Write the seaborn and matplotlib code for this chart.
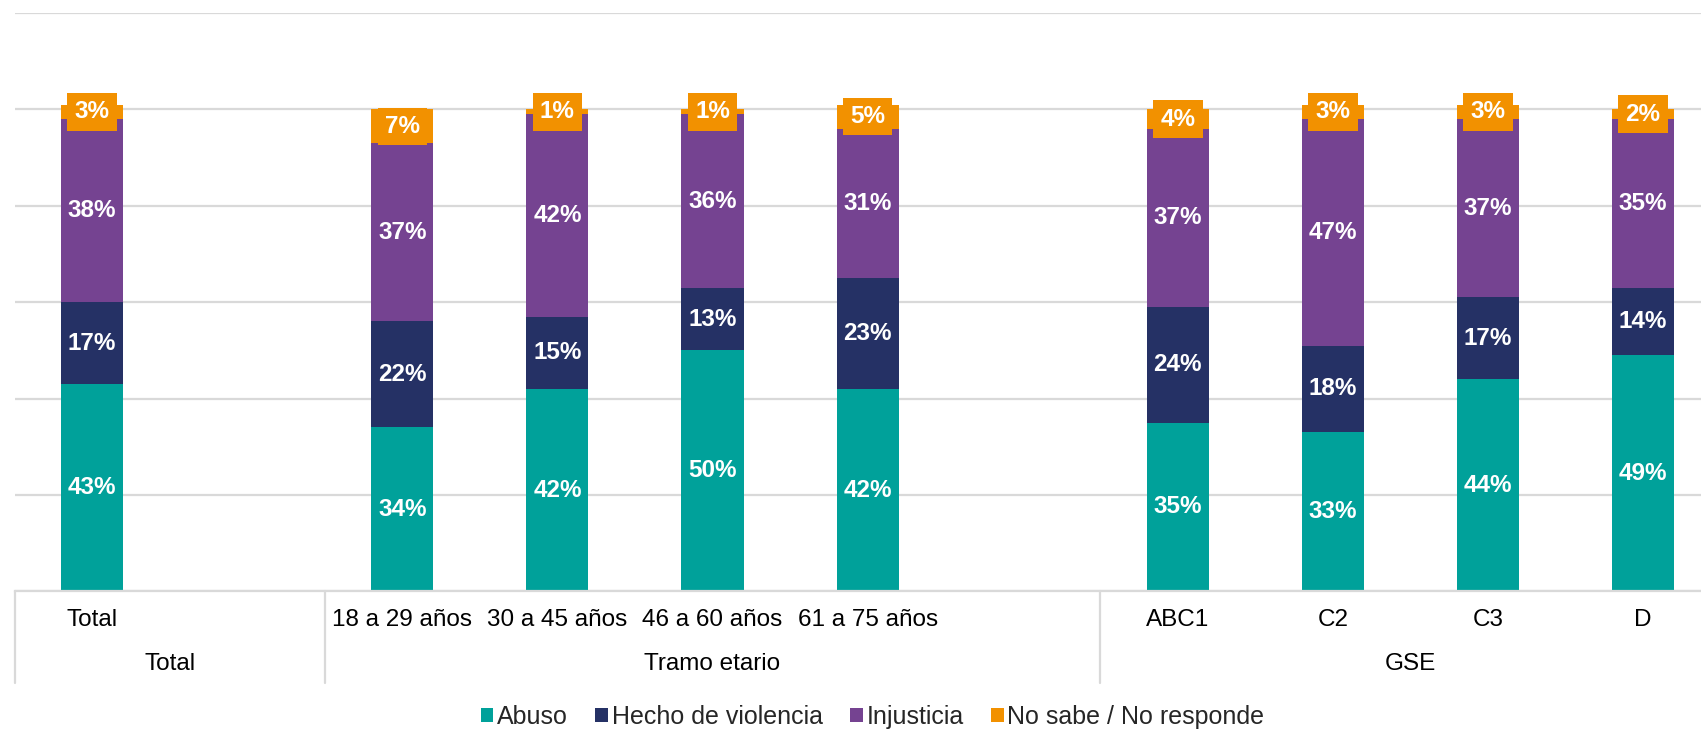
import matplotlib
matplotlib.use("Agg")
import matplotlib.pyplot as plt
import matplotlib.transforms as mtransforms
from matplotlib.patches import Patch
import numpy as np
import pandas as pd
import seaborn as sns

sns.set_style("white")
plt.rcParams["font.family"] = ["Liberation Sans", "DejaVu Sans"]

# Data
categories = ["Total", "18 a 29 años", "30 a 45 años", "46 a 60 años", "61 a 75 años",
              "ABC1", "C2", "C3", "D"]
groups = ["Total", "Tramo etario", "GSE"]
group_of = ["Total", "Tramo etario", "Tramo etario", "Tramo etario", "Tramo etario",
            "GSE", "GSE", "GSE", "GSE"]
series = ["Abuso", "Hecho de violencia", "Injusticia", "No sabe / No responde"]
abuso = [43, 34, 42, 50, 42, 35, 33, 44, 49]
violencia = [17, 22, 15, 13, 23, 24, 18, 17, 14]
injusticia = [38, 37, 42, 36, 31, 37, 47, 37, 35]
nsnr = [3, 7, 1, 1, 5, 4, 3, 3, 2]
colors = ["#00A19A", "#253165", "#754391", "#F29100"]

# category slots, with empty slots between the groups
slot_order = ["Total", "_gap1", "18 a 29 años", "30 a 45 años", "46 a 60 años",
              "61 a 75 años", "_gap2", "ABC1", "C2", "C3", "D"]

values = [abuso, violencia, injusticia, nsnr]
df = pd.DataFrame({"categoria": categories})
for name, vals in zip(series, values):
    df[name] = vals
cum = df[series].cumsum(axis=1)

fig = plt.figure(figsize=(17.01, 7.29), dpi=100)
ax = fig.add_axes([14.6 / 1701, 0.189, 1706 / 1701, 0.793])

# stacked bars: draw cumulative totals from the top layer down
for i in range(len(series) - 1, -1, -1):
    d = pd.DataFrame({"categoria": categories, "valor": cum[series[i]].values})
    sns.barplot(data=d, x="categoria", y="valor", order=slot_order, color=colors[i],
                saturation=1, width=0.4, linewidth=0, ax=ax)

# segment labels
pos = {c: slot_order.index(c) for c in categories}
for j, cat in enumerate(categories):
    bottom = 0
    for i, name in enumerate(series):
        v = values[i][j]
        y = bottom + v / 2
        if i == 3:
            ax.text(pos[cat], y, f"{v}%", ha="center", va="center", color="white",
                    fontsize=17.5, fontweight="bold", zorder=5,
                    bbox=dict(boxstyle="square,pad=0.3", fc=colors[3], ec="none"))
        else:
            ax.text(pos[cat], y, f"{v}%", ha="center", va="center", color="white",
                    fontsize=17.5, fontweight="bold", zorder=5)
        bottom += v

ax.set_ylim(0, 120)
ax.set_xlim(-0.5, len(slot_order) - 0.5)
ax.set_yticks(range(0, 121, 20))
ax.yaxis.grid(True, color="#D9D9D9", linewidth=1.6)
ax.set_axisbelow(True)
ax.tick_params(left=False, bottom=False, labelleft=False, labelbottom=False)
ax.set_xlabel("")
ax.set_ylabel("")
for s in ["top", "right", "left"]:
    ax.spines[s].set_visible(False)
ax.spines["bottom"].set_color("#D9D9D9")
ax.spines["bottom"].set_linewidth(1.6)

# two-level category axis
trans = mtransforms.blended_transform_factory(ax.transData, ax.transAxes)
for cat in categories:
    ax.text(pos[cat], -0.05, cat, transform=trans, ha="center", va="center",
            fontsize=17.5, color="black")

edges = [-0.5]
for g in groups:
    members = [pos[c] for c, gg in zip(categories, group_of) if gg == g]
    lo = edges[-1]
    hi = max(members) + 1.5 if g != groups[-1] else len(slot_order) - 0.5
    ax.text((lo + hi) / 2, -0.126, g, transform=trans, ha="center", va="center",
            fontsize=17.5, color="black")
    edges.append(hi)
for e in edges[:-1]:
    ax.plot([e, e], [0, -0.159], transform=trans, color="#D9D9D9", lw=1.6, clip_on=False)

handles = [Patch(facecolor=c, edgecolor="none", label=n) for c, n in zip(colors, series)]
fig.legend(handles=handles, loc="center", bbox_to_anchor=(0.513, 0.017), ncol=4,
           frameon=False, fontsize=18, handlelength=0.5, handleheight=0.5,
           handletextpad=0.15, columnspacing=1.1)

fig.savefig("out.png", dpi=100)
